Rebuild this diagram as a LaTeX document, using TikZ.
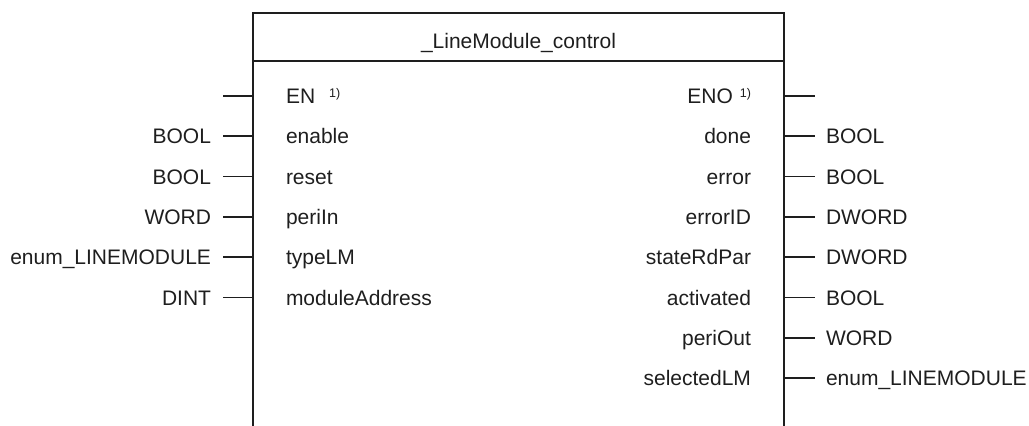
\documentclass[tikz,border=0pt]{standalone}
\usepackage{fontspec}
\setmainfont{Liberation Sans}
\definecolor{ink}{HTML}{1E1E1E}
\begin{document}
\begin{tikzpicture}[x=1pt,y=-1pt,
  lbl/.style={inner sep=0pt,outer sep=0pt,text=ink,font=\fontsize{21}{25}\selectfont},
  inlbl/.style={lbl,anchor=base west},
  outlbl/.style={lbl,anchor=base east},
  pin/.style={draw=ink,line width=1.7pt},
  frame/.style={draw=ink,line width=1.7pt}]
\useasboundingbox (0,0) rectangle (1029,426);
% frame
\coordinate (bl) at (253,427);
\coordinate (tl) at (253,12.7);
\coordinate (tr) at (784,12.7);
\coordinate (br) at (784,427);
\coordinate (hl) at (253,61);
\coordinate (hr) at (784,61);
\draw[frame] (bl) -- (tl) -- (tr) -- (br);
\draw[frame] (hl) -- (hr);
\node[lbl,anchor=base] (title) at (518.5,48) {\_LineModule\_control};
\newcommand{\supone}{{\fontsize{12.5}{12.5}\selectfont\raisebox{6.5pt}{1)}}}
% inputs
\foreach \k/\nm/\ty in {0/EN\hspace{14pt}\supone/,1/enable/BOOL,2/reset/BOOL,3/periIn/WORD,4/typeLM/enum\_LINEMODULE,5/moduleAddress/DINT}{
  \pgfmathsetmacro{\yy}{96+40.3*\k}
  \coordinate (ib\k) at (253,\yy);
  \coordinate (ie\k) at (223,\yy);
  \node[inlbl] (in\k) at (286,\yy+7.5) {\nm};
  \node[outlbl] (it\k) at (211,\yy+7.5) {\ty};
  \draw[pin] (ie\k) -- (ib\k);
}
% outputs
\foreach \k/\nm/\ty in {0/ENO\hspace{7pt}\supone/,1/done/BOOL,2/error/BOOL,3/errorID/DWORD,4/stateRdPar/DWORD,5/activated/BOOL,6/periOut/WORD,7/selectedLM/enum\_LINEMODULE}{
  \pgfmathsetmacro{\yy}{96+40.3*\k}
  \coordinate (ob\k) at (784,\yy);
  \coordinate (oe\k) at (815,\yy);
  \node[outlbl] (out\k) at (751,\yy+7.5) {\nm};
  \node[inlbl] (ot\k) at (826,\yy+7.5) {\ty};
  \draw[pin] (ob\k) -- (oe\k);
}
\end{tikzpicture}
\end{document}
